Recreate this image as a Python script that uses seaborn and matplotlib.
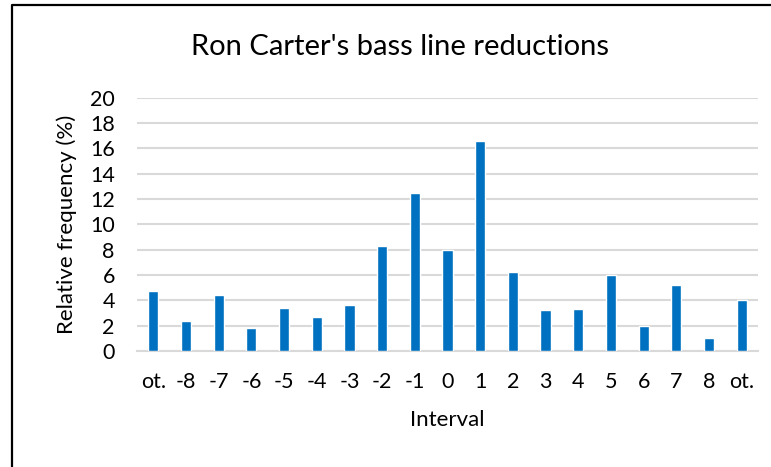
import matplotlib
matplotlib.use("Agg")
import matplotlib.pyplot as plt
from matplotlib.lines import Line2D
import numpy as np
import pandas as pd
import seaborn as sns

# Interval categories (outer "ot." = other, larger intervals)
interval_labels = ["ot.", "-8", "-7", "-6", "-5", "-4", "-3", "-2", "-1", "0",
                   "1", "2", "3", "4", "5", "6", "7", "8", "ot."]
rel_freq = [4.7, 2.4, 4.4, 1.8, 3.4, 2.7, 3.6, 8.3, 12.5, 8.0,
            16.6, 6.2, 3.2, 3.3, 6.0, 2.0, 5.2, 1.0, 4.0]
y_ticks = [0, 2, 4, 6, 8, 10, 12, 14, 16, 18, 20]

df = pd.DataFrame({"pos": np.arange(len(interval_labels)), "freq": rel_freq})

sns.set_theme(style="white")
plt.rcParams["font.family"] = ["Lato", "DejaVu Sans"]

W, H = 771, 467
fig = plt.figure(figsize=(W / 100, H / 100), dpi=100)
ax = fig.add_axes([137 / W, 1 - 351 / H, (758 - 137) / W, (351 - 97.5) / H])

sns.barplot(data=df, x="pos", y="freq", color="#0070C0", saturation=1,
            width=0.31, ax=ax, zorder=3)

ax.set_ylim(0, 20)
ax.set_xlim(-0.5, len(interval_labels) - 0.5)
ax.set_yticks(y_ticks)
ax.set_yticklabels([str(v) for v in y_ticks], fontsize=15.5, color="#000000")
ax.set_xticks(np.arange(len(interval_labels)))
ax.set_xticklabels(interval_labels, fontsize=15.5, color="#000000")
ax.tick_params(axis="both", length=0)
ax.tick_params(axis="y", pad=16)
ax.tick_params(axis="x", pad=15)

ax.yaxis.grid(True, color="#D9D9D9", linewidth=1.5, zorder=0)
ax.set_axisbelow(True)
for side in ["top", "right", "left"]:
    ax.spines[side].set_visible(False)
ax.spines["bottom"].set_color("#D9D9D9")
ax.spines["bottom"].set_linewidth(1.5)

ax.set_xlabel("Interval", fontsize=16, color="#000000")
ax.set_ylabel("Relative frequency (%)", fontsize=16, color="#000000")
ax.xaxis.set_label_coords((447 - 137) / (758 - 137), -(410 - 351) / 253.5)
ax.yaxis.set_label_coords(-(137 - 77) / 621, (351 - 224) / 253.5)

fig.text(400 / W, 1 - 47 / H, "Ron Carter's bass line reductions",
         ha="center", va="center", fontsize=21, color="#000000")

# chart frame (left and top edges)
fig.add_artist(Line2D([12 / W, 12 / W, 1.0], [0.0, 1 - 5 / H, 1 - 5 / H],
                      transform=fig.transFigure, color="black", linewidth=1.6))

fig.savefig("out.png", dpi=100)
